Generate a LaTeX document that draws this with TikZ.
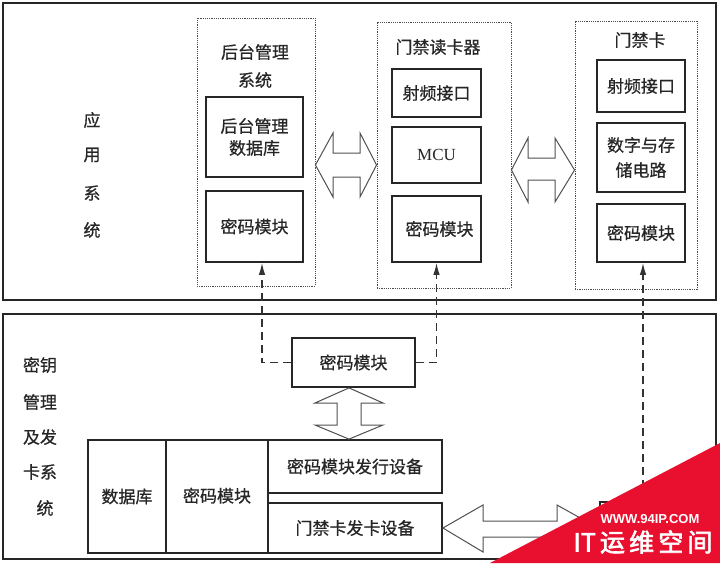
\documentclass[tikz,border=0pt]{standalone}
\usepackage{fontspec}
\setmainfont{Liberation Serif}
\newfontfamily\cjk{Noto Sans CJK SC}[FakeBold=0.6]
\newfontfamily\cjkb{Noto Sans CJK SC}[FakeBold=2.5]
\newfontfamily\wmsans{Liberation Sans}
\usetikzlibrary{arrows.meta}
\definecolor{wmred}{HTML}{E8102E}
\definecolor{arrgray}{HTML}{505050}
\tikzset{
  outerbox/.style={draw=black!85, line width=2.2pt},
  grpbox/.style={draw=black!70, line width=0.9pt, dash pattern=on 1.2pt off 1pt, inner sep=0pt},
  blk/.style={draw=black!85, line width=1.8pt, inner sep=0pt, font=\cjk\fontsize{17}{22}\selectfont, align=center, text=black!85},
  lbl/.style={font=\cjk\fontsize{17}{22}\selectfont, text=black!85, inner sep=0pt, align=center},
  dashconn/.style={draw=black!80, line width=1.3pt, dash pattern=on 8pt off 5pt},
  dashtip/.style={-{Latex[length=12pt,width=6.5pt]}},
  blockarrow/.style={draw=arrgray, line width=1pt, fill=white, line join=miter}
}
\begin{document}
\begin{tikzpicture}[x=1pt,y=-1pt]
\useasboundingbox (0,0) rectangle (720,563);
\fill[white] (0,0) rectangle (720,563);

% outer frames
\draw[outerbox] (3,3) rectangle (716,300);
\draw[outerbox] (3,314) rectangle (716,559);

% left labels
\node[lbl] (l1) at (92,120) {应};
\node[lbl] (l2) at (92,155) {用};
\node[lbl] (l3) at (92,193) {系};
\node[lbl] (l4) at (92,230) {统};
\node[lbl] (m1) at (40,365) {密钥};
\node[lbl] (m2) at (40,402) {管理};
\node[lbl] (m3) at (40,437) {及发};
\node[lbl] (m4) at (40,472) {卡系};
\node[lbl] (m5) at (45,508) {统};

% group 1
\node[grpbox, minimum width=118, minimum height=268] (g1) at (256,152) {};
\node[lbl, font=\cjk\fontsize{17}{28}\selectfont] (t1) at (255,66) {后台管理\\系统};
\node[blk, minimum width=97, minimum height=80, font=\cjk\fontsize{17}{22}\selectfont] (b1db) at (254.5,137) {后台管理\\数据库};
\node[blk, minimum width=97, minimum height=71] (b1key) at (254.5,226.5) {密码模块};

% group 2
\node[grpbox, minimum width=134, minimum height=266] (g2) at (444,155) {};
\node[lbl] (t2) at (438,47) {门禁读卡器};
\node[blk, minimum width=89, minimum height=48] (b2rf) at (436.5,93) {射频接口};
\node[blk, minimum width=89, minimum height=56, font=\fontsize{17}{20}\selectfont] (b2mcu) at (436.5,155) {MCU};
\node[blk, minimum width=89, minimum height=66] (b2key) at (436.5,229) {\hspace*{6pt}密码模块};

% group 3
\node[grpbox, minimum width=122, minimum height=268] (g3) at (636,155) {};
\node[lbl] (t3) at (640,40) {门禁卡};
\node[blk, minimum width=88, minimum height=52] (b3rf) at (641,86) {射频接口};
\node[blk, minimum width=88, minimum height=69, font=\cjk\fontsize{17}{25}\selectfont] (b3dig) at (641,157.5) {数字与存\\储电路};
\node[blk, minimum width=88, minimum height=58] (b3key) at (641,233) {密码模块};

% key management part
\node[blk, minimum width=123, minimum height=49] (key) at (353.5,362.5) {密码模块};
\node[blk, minimum width=78, minimum height=113] (bdb) at (127,496.5) {数据库};
\node[blk, minimum width=102, minimum height=113] (bkm) at (217,496.5) {\raisebox{3pt}{密码模块}};
\node[blk, minimum width=174, minimum height=53] (biss) at (355,466.5) {密码模块发行设备};
\node[blk, minimum width=174, minimum height=50] (bcard) at (355,528) {门禁卡发卡设备};
\node[blk, minimum width=90, minimum height=53] (hid) at (645,528.5) {};

% dashed connectors
\draw[dashconn, dashtip] (key.west) -| ([xshift=7.5pt]b1key.south);
\draw[dashconn, dashtip] (key.east) -| (b2key.south);
\draw[dashconn, dashtip] ([xshift=2pt]hid.north -| b3key.south) -- ([xshift=2pt]b3key.south);

% block double arrows
\draw[blockarrow] (g1.east |- 0,165) -- (333,133) -- (333,153) -- (360,153) -- (360,133) -- (g2.west |- 0,165)
  -- (360,197) -- (360,177) -- (333,177) -- (333,197) -- cycle;
\draw[blockarrow] (g2.east |- 0,170) -- (528,138) -- (528,158) -- (555,158) -- (555,138) -- (g3.west |- 0,170)
  -- (555,202) -- (555,180) -- (528,180) -- (528,202) -- cycle;
\draw[blockarrow] (key.south -| 349,0) -- (315,403) -- (337,403) -- (337,425) -- (315,425) -- (biss.north -| 349,0)
  -- (383,425) -- (361,425) -- (361,403) -- (383,403) -- cycle;
\draw[blockarrow] (bcard.east) -- (483,505) -- (483,521) -- (557,521) -- (557,505) -- (hid.west)
  -- (557,552) -- (557,537) -- (483,537) -- (483,552) -- cycle;

% watermark
\fill[wmred] (490,563) -- (720,443) -- (720,563) -- cycle;
\node[text=white, font=\wmsans\bfseries\fontsize{13}{13}\selectfont, inner sep=0pt] (wm1) at (650,519) {WWW.94IP.COM};
\node[text=white, font=\cjkb\fontsize{25}{25}\selectfont, inner sep=0pt] (wm2) at (643,542) {IT\,运\,维\,空\,间};
\end{tikzpicture}
\end{document}
